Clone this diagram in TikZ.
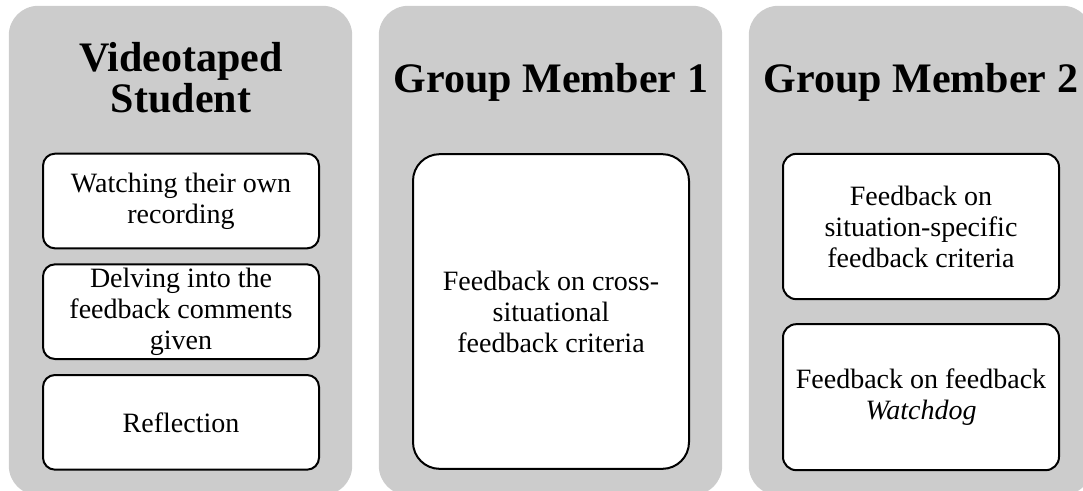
\documentclass[tikz,border=0pt]{standalone}
\usepackage{fontspec}
\setmainfont{Liberation Serif}
\usetikzlibrary{positioning}
\definecolor{panelgray}{RGB}{204,204,204}

\begin{document}
\begin{tikzpicture}[x=0.75pt,y=-0.75pt,node distance=20pt,line width=1.5pt]
\tikzstyle{panel}=[rectangle,rounded corners=22pt,fill=panelgray,draw=none,minimum width=257.5pt,minimum height=367pt,inner sep=0pt,outer sep=0pt]
\tikzstyle{heading}=[font=\fontsize{31.5}{31}\selectfont\bfseries,align=center,inner sep=0pt]
\tikzstyle{task}=[rectangle,rounded corners=9pt,fill=white,draw=black,minimum width=207pt,align=center,font=\fontsize{21}{23.25}\selectfont,inner sep=0pt,outer sep=0pt]
\useasboundingbox (0,0) rectangle (1083,490);
\clip (0,0) rectangle (1083,490);
\node[panel] (col1) at (180.5,250.5) {};
\node[panel] (col2) [right=of col1] {};
\node[panel] (col3) [right=of col2] {};

\node[heading] (head1) at (181,77.5) {Videotaped\\Student};
\node[heading,anchor=base] (head2) at (551,92) {Group Member 1};
\node[heading,anchor=base] (head3) at (921,92) {Group Member 2};

\node[task,minimum height=71pt] (watch) at (181,201) {Watching their own\\recording};
\node[task,minimum height=71pt] (delve) [below=12pt of watch] {Delving into the\\feedback comments\\given};
\node[task,minimum height=71pt] (reflect) [below=12pt of delve] {Reflection};

\node[task,minimum height=236pt,rounded corners=20pt] (cross) at (551,311.5) {Feedback on cross-\\situational\\feedback criteria};

\node[task,minimum height=109pt,rounded corners=10pt] (specific) at (921,226.5) {Feedback on\\situation-specific\\feedback criteria};
\node[task,minimum height=109.5pt,rounded corners=10pt] (watchdog) [below=18.75pt of specific] {Feedback on feedback\\\textit{Watchdog}};

\end{tikzpicture}
\end{document}
